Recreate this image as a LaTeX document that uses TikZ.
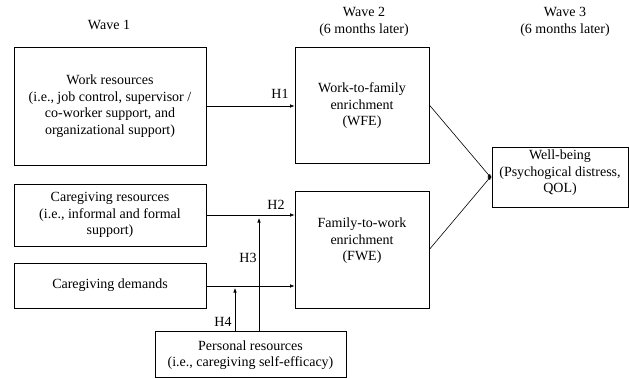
\documentclass[tikz,border=0pt]{standalone}
\usepackage{fontspec}
\setmainfont{Liberation Serif}
\usetikzlibrary{arrows.meta}
\begin{document}
\begin{tikzpicture}[x=1pt,y=-1pt,
  box/.style={draw,line width=0.7pt,inner sep=0pt},
  txt/.style={align=center,font=\fontsize{14}{16.5}\selectfont,inner sep=0pt},
  lbl/.style={font=\fontsize{14}{16}\selectfont,inner sep=0pt},
  arr/.style={line width=0.6pt,-{Latex[length=4.5pt,width=3.5pt]}}]
\useasboundingbox (0,0) rectangle (629,378);
% boxes
\node[box,minimum width=192pt,minimum height=118pt] (WR) at (110,106) {};
\node[txt] at (110,106) {Work resources\\(i.e., job control, supervisor /\\co-worker support, and\\organizational support)};
\node[box,minimum width=134pt,minimum height=116pt] (WFE) at (362,105) {};
\node[txt] at (362,106) {Work-to-family\\enrichment\\(WFE)};
\node[box,minimum width=192pt,minimum height=62pt] (CR) at (110,215) {};
\node[txt] at (110,215) {Caregiving resources\\(i.e., informal and formal\\support)};
\node[box,minimum width=192pt,minimum height=45pt] (CD) at (110,285.5) {};
\node[txt] at (110,285.5) {Caregiving demands};
\node[box,minimum width=134pt,minimum height=117pt] (FWE) at (362,249.5) {};
\node[txt] at (362,241) {Family-to-work\\enrichment\\(FWE)};
\node[box,minimum width=136pt,minimum height=60pt] (WB) at (560,177) {};
\node[txt] at (560,173) {Well-being\\(Psychogical distress,\\QOL)};
\node[box,minimum width=191pt,minimum height=46pt] (PR) at (250.5,354) {};
\node[txt] at (250.5,355) {Personal resources\\(i.e., caregiving self-efficacy)};
% wave labels
\node[lbl] (w1) at (109,25) {Wave 1};
\node[txt] (w2) at (364,22) {Wave 2\\(6 months later)};
\node[txt] (w3) at (565,22) {Wave 3\\(6 months later)};
% coordinates
\coordinate (h3t) at (259,218);
\coordinate (h4t) at (235,288);
\coordinate (h3b) at (259,331);
\coordinate (h4b) at (235,331);
% arrows
\draw[arr] (WR.east |- 0,106) -- (WFE.west |- 0,106);
\draw[arr] (CR.east |- 0,215) -- (FWE.west |- 0,215);
\draw[arr] (CD.east |- 0,286) -- (FWE.west |- 0,286);
\draw[arr] (PR.north -| h3b) -- (h3t);
\draw[arr] (PR.north -| h4b) -- (h4t);
\draw[arr] (WFE.east) -- ([yshift=-1.5pt]WB.west);
\draw[arr] (FWE.east) -- ([yshift=1.5pt]WB.west);
% hypothesis labels
\node[lbl] (H1) at (280,94) {H1};
\node[lbl] (H2) at (276,205) {H2};
\node[lbl] (H3) at (248,258) {H3};
\node[lbl] (H4) at (223,322) {H4};
\end{tikzpicture}
\end{document}
